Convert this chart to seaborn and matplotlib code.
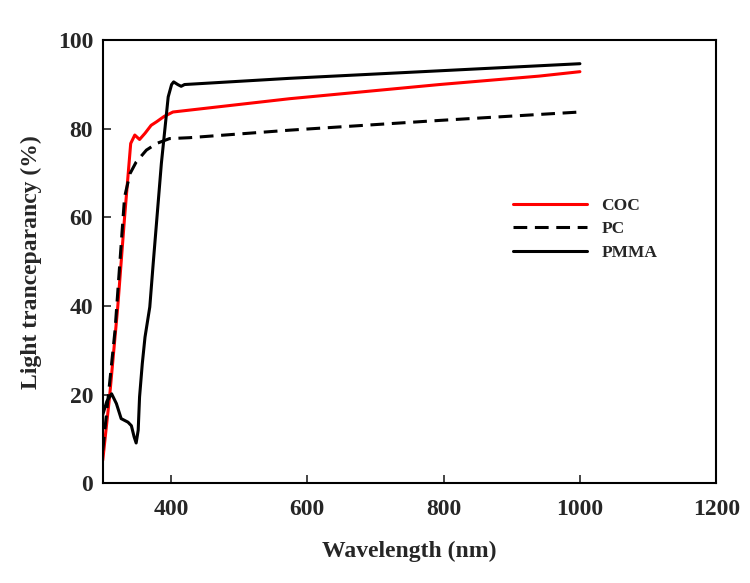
import numpy as np
import pandas as pd
import matplotlib
matplotlib.use("Agg")
import matplotlib.pyplot as plt
import seaborn as sns

# values
coc_wl = [300, 310, 322, 332, 341, 347, 354, 362, 371, 379, 390, 403, 420, 574, 794, 940, 1000]
coc_t = [5.2, 19.5, 39.8, 60.0, 76.7, 78.6, 77.6, 79.0, 80.8, 81.6, 82.8, 83.8, 84.1, 86.8, 90.0, 91.9, 92.9]

pc_wl = [300, 308, 318, 325, 332, 340, 349, 364, 379, 398, 427, 574, 794, 1000]
pc_t = [7.4, 19.5, 34.5, 49.6, 64.6, 69.9, 72.5, 75.2, 76.7, 77.8, 78.0, 79.7, 81.9, 83.8]

pmma_wl = [300, 306, 313, 320, 327, 337, 342, 346, 349, 352, 354, 358, 362, 369, 374, 386, 396, 401, 404, 410, 415, 420, 574, 794, 1000]
pmma_t = [15.5, 18.5, 20.2, 18.0, 14.6, 13.8, 13.0, 10.5, 9.1, 12.0, 19.5, 27.0, 33.0, 39.8, 49.6, 72.2, 87.2, 90.0, 90.6, 90.0, 89.6, 90.0, 91.4, 93.1, 94.7]

series_names = ["COC", "PC", "PMMA"]
x_ticks = [400, 600, 800, 1000, 1200]
y_ticks = [0, 20, 40, 60, 80, 100]

sns.set_style("ticks")
plt.rcParams['font.family'] = ['Liberation Serif', 'DejaVu Serif']
plt.rcParams['font.weight'] = 'bold'

fig = plt.figure(figsize=(7.5, 5.83), dpi=100)
ax = fig.add_axes([0.137, 0.171, 0.818, 0.760])

sns.lineplot(x=coc_wl, y=coc_t, color='#ff0000', lw=2.2, ax=ax, label=series_names[0])
sns.lineplot(x=pc_wl, y=pc_t, color='black', lw=2.2, ax=ax, label=series_names[1],
             linestyle=(0, (4.5, 2.5)))
sns.lineplot(x=pmma_wl, y=pmma_t, color='black', lw=2.2, ax=ax, label=series_names[2])

ax.set_xlim(300, 1200)
ax.set_ylim(0, 100)
ax.set_xticks(x_ticks)
ax.set_yticks(y_ticks)
ax.tick_params(direction='in', length=6, width=1.2, labelsize=17)
ax.tick_params(axis='x', pad=11)
ax.tick_params(axis='y', pad=7)
for lab in ax.get_xticklabels() + ax.get_yticklabels():
    lab.set_fontweight('bold')
for s in ax.spines.values():
    s.set_linewidth(1.5)
    s.set_color('black')

ax.set_xlabel("Wavelength (nm)", fontsize=17, fontweight='bold', labelpad=15)
ax.set_ylabel("Light tranceparancy (%)", fontsize=17, fontweight='bold', labelpad=11)

leg = ax.legend(loc='upper left', bbox_to_anchor=(0.684, 0.661), bbox_transform=fig.transFigure,
                frameon=False, fontsize=12.5, handlelength=4.25, handletextpad=0.85,
                labelspacing=0.42, borderpad=0, borderaxespad=0)
for t in leg.get_texts():
    t.set_fontweight('bold')

fig.savefig("out.png", dpi=100)
